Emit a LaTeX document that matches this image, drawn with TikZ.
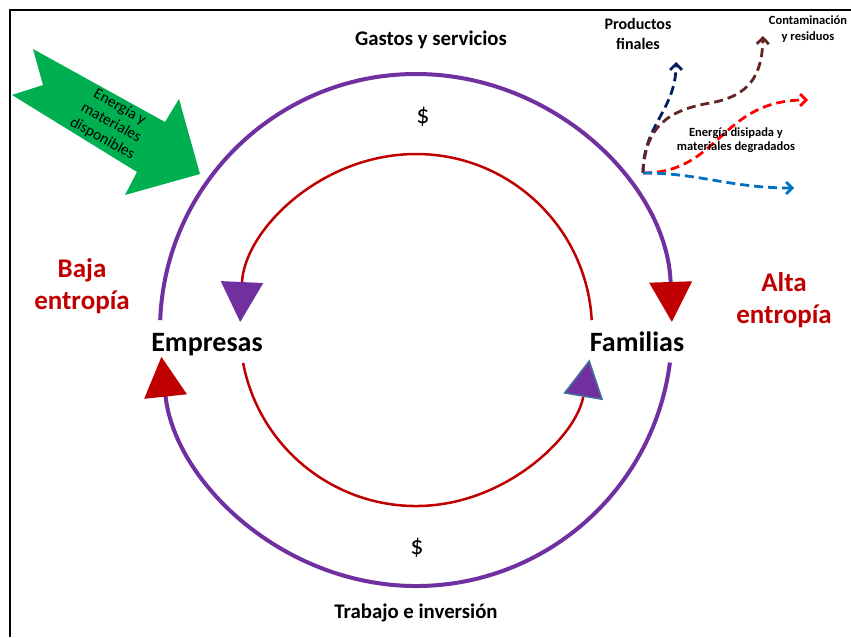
\documentclass[tikz,border=0pt]{standalone}
\usepackage{fontspec}
\setmainfont{Carlito}
\usetikzlibrary{arrows.meta}
\definecolor{purp}{HTML}{7030A0}
\definecolor{dred}{HTML}{C00000}
\definecolor{grn}{HTML}{00B050}
\definecolor{navyc}{HTML}{002060}
\definecolor{brn}{HTML}{632523}
\definecolor{bblue}{HTML}{0070C0}
\definecolor{tedge}{HTML}{41719C}
\begin{document}
\begin{tikzpicture}[x=1pt,y=-1pt,
  lbl/.style={font=\bfseries\fontsize{20.8}{24}\selectfont, inner sep=0pt, anchor=base},
  big/.style={font=\bfseries\fontsize{28}{32}\selectfont, inner sep=0pt, anchor=base},
  ent/.style={font=\bfseries\fontsize{27}{32}\selectfont, text=dred, align=center, inner sep=0pt},
  dollar/.style={font=\fontsize{26}{30}\selectfont, inner sep=0pt},
  outerarc/.style={purp, line width=4pt},
  innerarc/.style={dred, line width=2.5pt},
  flow/.style={dash pattern=on 9pt off 5pt, line width=2.8pt, -{Straight Barb[length=6pt,width=12pt]}},
]
\useasboundingbox (0,0) rectangle (851,637);
\fill[white] (0,0) rectangle (851,637);
% frame
\draw[line width=2pt] (851,10) -- (10,10) -- (10,637);

% centre
\coordinate (c) at (416,330);

% outer purple cycle
\draw[outerarc, -{Triangle[length=40pt,width=42pt,color=dred]}]
  (c) ++(-177.8:256) arc[start angle=-177.8, end angle=-1.8, radius=256];
\draw[outerarc, -{Triangle[length=40pt,width=42pt,color=dred]}]
  (c) ++(7.3:256) arc[start angle=7.3, end angle=174, radius=256];

% inner red cycle
\draw[innerarc, -{Triangle[length=40pt,width=42pt,color=purp]}]
  (c) ++(-3.2:176) arc[start angle=-3.2, end angle=-177.4, radius=176];
\draw[innerarc, -{Triangle[length=38pt,width=40pt,fill=purp,color=tedge,line width=1.5pt]}]
  (c) ++(169.2:176) arc[start angle=169.2, end angle=9.6, radius=176];

% labels
\node[lbl] (gastos) at (431,45) {Gastos y servicios};
\node[lbl] (trabajo) at (416,618) {Trabajo e inversión};
\node[dollar] (d1) at (423,117) {\$};
\node[dollar] (d2) at (417,548) {\$};
\node[big] (emp) at (207,351) {Empresas};
\node[big] (fam) at (637,351) {Familias};
\node[ent] (baja) at (82,286) {Baja\\entropía};
\node[ent] (alta) at (784,300) {Alta\\entropía};

% green input arrow
\fill[grn] (33,49) -- (165,122) -- (179,99) -- (200,174) -- (125,195) -- (137,172) -- (12,95) -- (43,85) -- cycle;
\node[font=\fontsize{15.5}{18}\selectfont, align=center, rotate=-29, inner sep=0pt] (eng) at (111,123) {Energía y\\materiales\\disponibles};

% outputs
\coordinate (src) at (643,173);
\coordinate (tnavy) at (676,62);
\coordinate (tbrn) at (763,36);
\coordinate (tred) at (808,100);
\coordinate (tblue) at (794,188);
\draw[flow, navyc] (src) .. controls (643,125) and (676,110) .. (tnavy);
\draw[flow, brn] (src) .. controls (645,125) and (670,110) .. (710,103) .. controls (750,96) and (762,75) .. (tbrn);
\draw[flow, red] (src) .. controls (720,173) and (720,100) .. (tred);
\draw[flow, bblue] (src) .. controls (700,173) and (730,188) .. (tblue);

\node[font=\bfseries\fontsize{16}{20}\selectfont, align=center, inner sep=0pt] (prod) at (638,34) {Productos\\finales};
\node[font=\bfseries\fontsize{12.5}{16}\selectfont, align=center, inner sep=0pt] (cont) at (808,29) {Contaminación\\y residuos};
\node[font=\bfseries\fontsize{12.5}{14}\selectfont, align=center, inner sep=0pt] (disip) at (736,140) {Energía disipada y\\materiales degradados};
\end{tikzpicture}
\end{document}
